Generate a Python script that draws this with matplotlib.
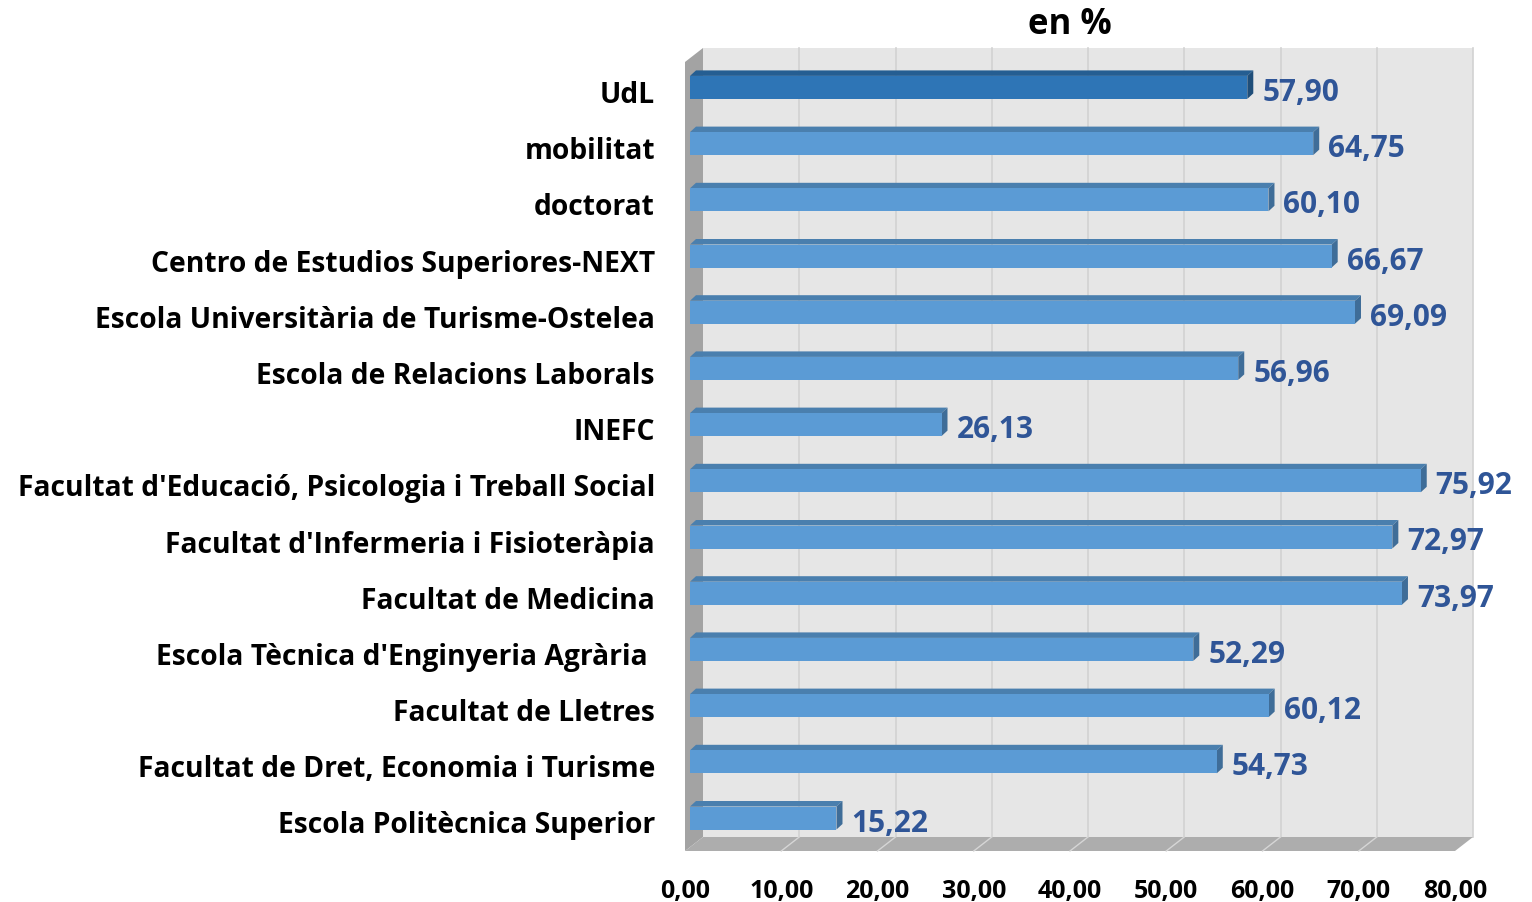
import matplotlib
matplotlib.use("Agg")
import matplotlib.pyplot as plt
from matplotlib.patches import Polygon

categories = [
    "Escola Politècnica Superior",
    "Facultat de Dret, Economia i Turisme",
    "Facultat de Lletres",
    "Escola Tècnica d'Enginyeria Agrària ",
    "Facultat de Medicina",
    "Facultat d'Infermeria i Fisioteràpia",
    "Facultat d'Educació, Psicologia i Treball Social",
    "INEFC",
    "Escola de Relacions Laborals",
    "Escola Universitària de Turisme-Ostelea",
    "Centro de Estudios Superiores-NEXT",
    "doctorat",
    "mobilitat",
    "UdL",
]
values = [15.22, 54.73, 60.12, 52.29, 73.97, 72.97, 75.92, 26.13, 56.96, 69.09, 66.67, 60.10, 64.75, 57.90]
xticks = [0, 10, 20, 30, 40, 50, 60, 70, 80]
title = "en %"

FONT = ["Open Sans", "DejaVu Sans"]
plt.rcParams["font.family"] = FONT

W, H = 1532, 903
fig = plt.figure(figsize=(W / 100, H / 100), dpi=100)

# pixel scale constants for the pseudo-3D layout
SX = 9.625   # px per value unit
SY = 56.2    # px per category step
X0PX = 685   # front plane x=0 in px
Y0PX = 819   # centre of category 0 in px
xlim = (-1, 84)
ylim = (-1, 14.2)
left = (X0PX + xlim[0] * SX) / W
width = (xlim[1] - xlim[0]) * SX / W
bottom = (H - (Y0PX - ylim[0] * SY)) / H
height = (ylim[1] - ylim[0]) * SY / H
ax = fig.add_axes([left, bottom, width, height])
ax.set_xlim(*xlim)
ax.set_ylim(*ylim)
for s in ax.spines.values():
    s.set_visible(False)

def px_x(p):
    return p / SX

def px_y(p):
    return p / SY

# depth of walls
DX = px_x(18)
DY = px_y(14)
XMAX = 80
y_front_bot = -px_y(852 - Y0PX)
y_front_top = px_y(Y0PX - 63)

# back wall
ax.add_patch(Polygon([(DX, y_front_bot + DY), (XMAX + DX, y_front_bot + DY),
                      (XMAX + DX, y_front_top + DY), (DX, y_front_top + DY)],
                     closed=True, facecolor="#e6e6e6", edgecolor="none", zorder=1))
# gridlines on back wall
for t in xticks[1:]:
    ax.plot([t + DX, t + DX], [y_front_bot + DY, y_front_top + DY], color="#d2d2d2", lw=1.2, zorder=1.5)
# left wall
ax.add_patch(Polygon([(0, y_front_bot), (DX, y_front_bot + DY), (DX, y_front_top + DY), (0, y_front_top)],
                     closed=True, facecolor="#a3a3a3", edgecolor="none", zorder=2))
# floor
ax.add_patch(Polygon([(0, y_front_bot), (XMAX, y_front_bot), (XMAX + DX, y_front_bot + DY), (DX, y_front_bot + DY)],
                     closed=True, facecolor="#adadad", edgecolor="none", zorder=2))
for t in xticks[1:-1]:
    ax.plot([t, t + DX], [y_front_bot, y_front_bot + DY], color="#d6d6d6", lw=1.0, zorder=2.5)

# bars
BX = px_x(5)          # bar front-face start offset
BH = px_y(23)         # bar front face height
BDX = px_x(6)
BDY = px_y(5.5)
for i, (cat, v) in enumerate(zip(categories, values)):
    is_total = (i == len(categories) - 1)
    front = "#2e75b6" if is_total else "#5b9bd5"
    top = "#255e92" if is_total else "#4a7fae"
    side = "#1f4e79" if is_total else "#3f6d98"
    y0 = i - BH / 2
    y1 = i + BH / 2
    x0 = BX
    x1 = BX + v
    ax.add_patch(Polygon([(x0, y1), (x1, y1), (x1 + BDX, y1 + BDY), (x0 + BDX, y1 + BDY)],
                         closed=True, facecolor=top, edgecolor="none", zorder=4))
    ax.add_patch(Polygon([(x1, y0), (x1 + BDX, y0 + BDY), (x1 + BDX, y1 + BDY), (x1, y1)],
                         closed=True, facecolor=side, edgecolor="none", zorder=4))
    ax.add_patch(Polygon([(x0, y0), (x1, y0), (x1, y1), (x0, y1)],
                         closed=True, facecolor=front, edgecolor="none", zorder=5))
    ax.text(x1 + BDX + px_x(9), i - px_y(4.5), f"{v:.2f}".replace(".", ","),
            ha="left", va="center", fontsize=21.5, fontweight="bold", color="#2f5597", zorder=6)
    ax.text(px_x(655 - X0PX), i - px_y(7), cat, ha="right", va="center",
            fontsize=20.3, fontweight="bold", color="black", clip_on=False)

ax.set_xticks(xticks)
ax.set_xticklabels([f"{t:.2f}".replace(".", ",") for t in xticks], fontsize=18, fontweight="bold")
ax.tick_params(axis="x", length=0, pad=3)
ax.set_yticks([])
ax.set_facecolor("none")

fig.text(1070 / W, 1 - 25 / H, title, ha="center", va="center", fontsize=25, fontweight="bold")

fig.savefig("out.png", dpi=100, facecolor="white")
